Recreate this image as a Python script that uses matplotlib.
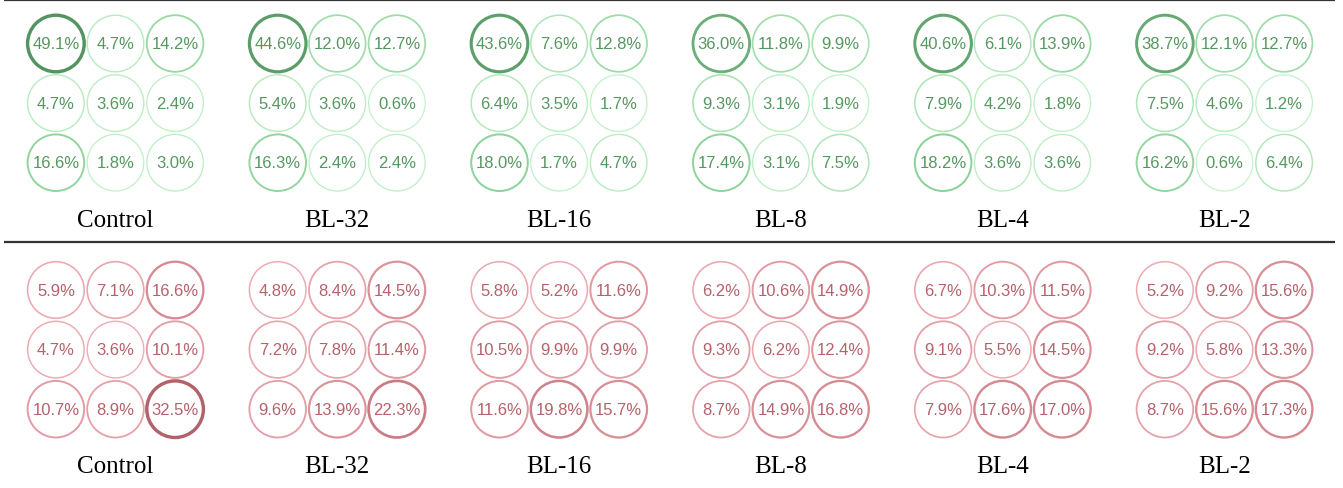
import numpy as np
import matplotlib
matplotlib.use("Agg")
import matplotlib.pyplot as plt
from matplotlib.patches import Circle
from matplotlib.colors import LinearSegmentedColormap

conditions = ["Control", "BL-32", "BL-16", "BL-8", "BL-4", "BL-2"]

green_control = [[49.1, 4.7, 14.2], [4.7, 3.6, 2.4], [16.6, 1.8, 3.0]]
green_bl32 = [[44.6, 12.0, 12.7], [5.4, 3.6, 0.6], [16.3, 2.4, 2.4]]
green_bl16 = [[43.6, 7.6, 12.8], [6.4, 3.5, 1.7], [18.0, 1.7, 4.7]]
green_bl8 = [[36.0, 11.8, 9.9], [9.3, 3.1, 1.9], [17.4, 3.1, 7.5]]
green_bl4 = [[40.6, 6.1, 13.9], [7.9, 4.2, 1.8], [18.2, 3.6, 3.6]]
green_bl2 = [[38.7, 12.1, 12.7], [7.5, 4.6, 1.2], [16.2, 0.6, 6.4]]

red_control = [[5.9, 7.1, 16.6], [4.7, 3.6, 10.1], [10.7, 8.9, 32.5]]
red_bl32 = [[4.8, 8.4, 14.5], [7.2, 7.8, 11.4], [9.6, 13.9, 22.3]]
red_bl16 = [[5.8, 5.2, 11.6], [10.5, 9.9, 9.9], [11.6, 19.8, 15.7]]
red_bl8 = [[6.2, 10.6, 14.9], [9.3, 6.2, 12.4], [8.7, 14.9, 16.8]]
red_bl4 = [[6.7, 10.3, 11.5], [9.1, 5.5, 14.5], [7.9, 17.6, 17.0]]
red_bl2 = [[5.2, 9.2, 15.6], [9.2, 5.8, 13.3], [8.7, 15.6, 17.3]]

green_groups = [green_control, green_bl32, green_bl16, green_bl8, green_bl4, green_bl2]
red_groups = [red_control, red_bl32, red_bl16, red_bl8, red_bl4, red_bl2]

W, H = 1343, 489
fig = plt.figure(figsize=(W / 100, H / 100), dpi=100)
ax = fig.add_axes([0, 0, 1, 1])
ax.set_xlim(0, W)
ax.set_ylim(H, 0)
ax.set_aspect("equal")
ax.axis("off")

styles = {
    "green": dict(cmap=LinearSegmentedColormap.from_list(
        "g", [(0, "#c6f3cd"), (0.35, "#8fd49c"), (1, "#539460")]),
        text="#55985f"),
    "red": dict(cmap=LinearSegmentedColormap.from_list(
        "r", [(0, "#f6b8bf"), (0.5, "#d78c95"), (1, "#b2626b")]),
        text="#b5626b"),
}

panel_x0 = 115.5
panel_dx = 221.8
cell = 59.6
radius = 28.3


def draw_block(groups, style, row_y0, label_y):
    st = styles[style]
    vmax = max(max(max(r) for r in g) for g in groups)
    for gi, (name, grid) in enumerate(zip(conditions, groups)):
        cx0 = panel_x0 + gi * panel_dx
        for ri, row in enumerate(grid):
            for ci, v in enumerate(row):
                x = cx0 + (ci - 1) * cell
                y = row_y0 + ri * cell
                t = v / vmax
                ec = st["cmap"](t)
                lw = 0.85 + 1.6 * t
                ax.add_patch(Circle((x, y), radius, facecolor="white",
                                    edgecolor=ec, linewidth=lw))
                ax.text(x, y, f"{v:.1f}%", ha="center", va="center",
                        fontsize=12, color=st["text"],
                        family="Liberation Sans")
        ax.text(cx0, label_y, name, ha="center", va="center",
                fontsize=18, color="black", family="Liberation Serif")


draw_block(green_groups, "green", 44.5, 221)
draw_block(red_groups, "red", 291, 467)

ax.plot([4, 1335], [1, 1], color="#333333", lw=1.6, solid_capstyle="butt")
ax.plot([4, 1335], [243, 243], color="#333333", lw=1.6, solid_capstyle="butt")

fig.savefig("out.png", dpi=100, facecolor="white")
